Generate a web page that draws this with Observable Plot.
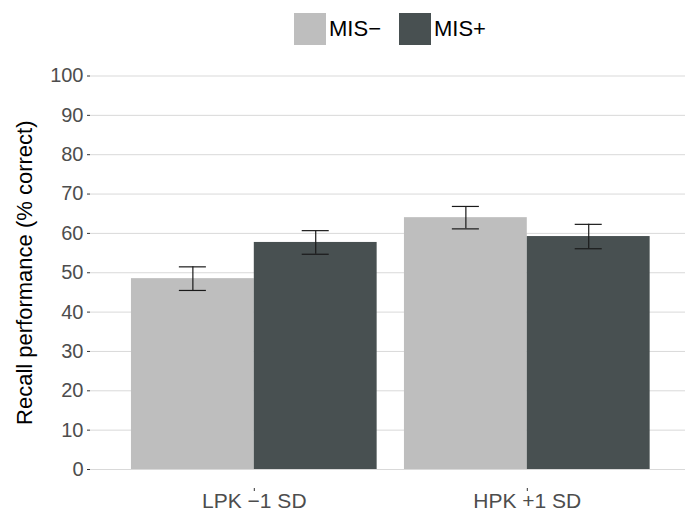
<!DOCTYPE html>
<html>
<head>
<meta charset="utf-8">
<script src="https://cdn.jsdelivr.net/npm/d3@7"></script>
<script src="https://cdn.jsdelivr.net/npm/@observablehq/plot@0.6"></script>
<style>
  html, body { margin: 0; padding: 0; background: #fff; overflow: hidden; }
  body { width: 685px; height: 512px; font-family: "Liberation Sans", Arial, Helvetica, sans-serif; }
  #legend { height: 58px; margin-left: 90px; width: 600px; display: flex; justify-content: center; align-items: center; font-size: 22px; color: #000; }
  .item { display: flex; align-items: center; margin: 0 9px; }
  .sw { width: 32px; height: 32px; margin-right: 3px; }
  svg { display: block; }
</style>
</head>
<body>
<div id="legend"></div>
<div id="chart"></div>
<script>
// ---- data ----
const groups = ["LPK −1 SD", "HPK +1 SD"];
const series = ["MIS−", "MIS+"];
const meanMISminus = [48.5, 64.0];
const meanMISplus = [57.7, 59.2];
const seMISminus = [3.0, 2.85];
const seMISplus = [3.0, 3.1];
const yTicks = [0, 10, 20, 30, 40, 50, 60, 70, 80, 90, 100];
const colors = ["#bebebe", "#485051"];

// ---- table (ggplot-like dodge: group positions 1,2; bar width 0.45) ----
const dodge = 0.45;
const rows = [];
groups.forEach((g, gi) => {
  series.forEach((s, si) => {
    const mean = si === 0 ? meanMISminus[gi] : meanMISplus[gi];
    const se = si === 0 ? seMISminus[gi] : seMISplus[gi];
    const center = gi + 1 + (si - 0.5) * dodge;
    rows.push({group: g, series: s, mean, lo: mean - se, hi: mean + se,
      x1: center - dodge / 2, x2: center + dodge / 2, xc: center});
  });
});

// legend
const legend = document.getElementById("legend");
series.forEach((s, i) => {
  const it = document.createElement("div");
  it.className = "item";
  const sw = document.createElement("div");
  sw.className = "sw";
  sw.style.background = colors[i];
  const t = document.createElement("span");
  t.textContent = s;
  it.appendChild(sw); it.appendChild(t);
  legend.appendChild(it);
});

const capHalf = 0.0495;
const chart = Plot.plot({
  width: 685,
  height: 454,
  marginLeft: 90,
  marginRight: 0,
  marginTop: 17.5,
  marginBottom: 43,
  style: {fontFamily: '"Liberation Sans", Arial, Helvetica, sans-serif', background: "#fff"},
  x: {type: "linear", domain: [0.4, 2.5795], axis: null},
  y: {domain: [0, 100], axis: null},
  color: {domain: series, range: colors},
  marks: [
    Plot.ruleY(yTicks, {stroke: "#d9d9d9", strokeWidth: 1}),
    Plot.rect(rows, {x1: "x1", x2: "x2", y1: 0, y2: "mean", fill: "series"}),
    Plot.ruleX(rows, {x: "xc", y1: "lo", y2: "hi", stroke: "#1a1a1a", strokeWidth: 1.2}),
    Plot.ruleY(rows, {x1: d => d.xc - capHalf, x2: d => d.xc + capHalf, y: "hi", stroke: "#1a1a1a", strokeWidth: 1.2}),
    Plot.ruleY(rows, {x1: d => d.xc - capHalf, x2: d => d.xc + capHalf, y: "lo", stroke: "#1a1a1a", strokeWidth: 1.2}),
    Plot.axisY({ticks: yTicks, tickSize: 3, tickPadding: 4, fontSize: 20, fill: "#4d4d4d", stroke: "#333", label: null}),
    Plot.axisX({ticks: [1, 2], tickFormat: i => groups[i - 1], tickSize: 0, tickPadding: 24, fontSize: 21, fill: "#4d4d4d", label: null}),
    Plot.ruleX([1, 2], {x: d => d, insetTop: 412.5, insetBottom: -22, stroke: "#333", strokeWidth: 1}),
    Plot.text(["Recall performance (% correct)"], {frameAnchor: "left", textAnchor: "middle", rotate: -90, dx: -66, fontSize: 22, fill: "#000"})
  ]
});
document.getElementById("chart").appendChild(chart);
</script>
</body>
</html>
